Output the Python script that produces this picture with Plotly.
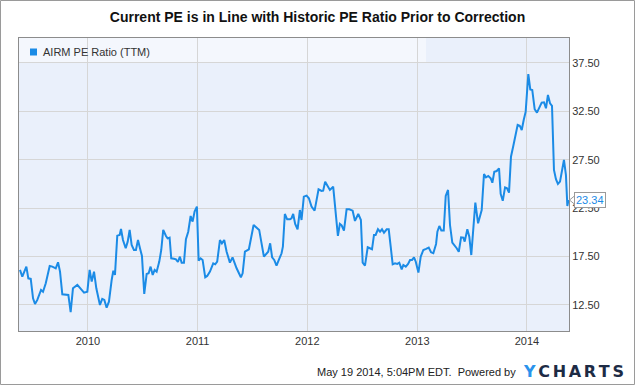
import plotly.graph_objects as go
from datetime import datetime, timedelta

years = [
    2009.380, 2009.401, 2009.438, 2009.456, 2009.478, 2009.499, 2009.517, 2009.538, 2009.572, 2009.590,
    2009.615, 2009.651, 2009.675, 2009.706, 2009.727, 2009.745, 2009.766, 2009.797, 2009.821, 2009.842,
    2009.863, 2009.903, 2009.933, 2009.964, 2009.994, 2010.015, 2010.034, 2010.055, 2010.076, 2010.109,
    2010.130, 2010.149, 2010.170, 2010.191, 2010.216, 2010.231, 2010.246, 2010.267, 2010.289, 2010.301,
    2010.319, 2010.344, 2010.362, 2010.380, 2010.398, 2010.419, 2010.437, 2010.456, 2010.474, 2010.492,
    2010.513, 2010.535, 2010.553, 2010.571, 2010.590, 2010.608, 2010.626, 2010.650, 2010.668, 2010.686,
    2010.711, 2010.726, 2010.744, 2010.759, 2010.784, 2010.802, 2010.820, 2010.838, 2010.854, 2010.875,
    2010.893, 2010.914, 2010.936, 2010.954, 2010.972, 2010.993, 2011.009, 2011.027, 2011.045, 2011.069,
    2011.087, 2011.112, 2011.142, 2011.160, 2011.178, 2011.203, 2011.221, 2011.242, 2011.264, 2011.294,
    2011.318, 2011.355, 2011.394, 2011.410, 2011.431, 2011.467, 2011.510, 2011.531, 2011.561, 2011.604,
    2011.628, 2011.643, 2011.661, 2011.679, 2011.698, 2011.719, 2011.740, 2011.765, 2011.777, 2011.795,
    2011.816, 2011.841, 2011.856, 2011.871, 2011.889, 2011.911, 2011.932, 2011.947, 2011.968, 2011.993,
    2012.014, 2012.038, 2012.066, 2012.102, 2012.129, 2012.144, 2012.162, 2012.187, 2012.205, 2012.235,
    2012.257, 2012.278, 2012.296, 2012.312, 2012.333, 2012.357, 2012.381, 2012.412, 2012.433, 2012.463,
    2012.487, 2012.503, 2012.524, 2012.549, 2012.569, 2012.588, 2012.606, 2012.621, 2012.642, 2012.661,
    2012.679, 2012.697, 2012.722, 2012.740, 2012.758, 2012.776, 2012.797, 2012.818, 2012.836, 2012.858,
    2012.873, 2012.895, 2012.916, 2012.934, 2012.952, 2012.970, 2012.986, 2013.010, 2013.031, 2013.055,
    2013.080, 2013.104, 2013.125, 2013.146, 2013.171, 2013.183, 2013.201, 2013.219, 2013.241, 2013.259,
    2013.280, 2013.298, 2013.319, 2013.344, 2013.359, 2013.378, 2013.399, 2013.420, 2013.432, 2013.456,
    2013.474, 2013.492, 2013.511, 2013.529, 2013.554, 2013.572, 2013.587, 2013.608, 2013.626, 2013.647,
    2013.669, 2013.684, 2013.702, 2013.724, 2013.745, 2013.760, 2013.779, 2013.800, 2013.818, 2013.836,
    2013.854, 2013.875, 2013.893, 2013.915, 2013.934, 2013.952, 2013.970, 2013.988, 2014.012, 2014.030,
    2014.048, 2014.070, 2014.091, 2014.112, 2014.134, 2014.155, 2014.173, 2014.191, 2014.210, 2014.228,
    2014.246, 2014.264, 2014.282, 2014.301, 2014.319, 2014.337, 2014.355, 2014.368, 2014.374, 2014.380,
]
pe_ratio = [
    16.12, 15.42, 16.46, 15.25, 15.19, 13.19, 12.60, 13.02, 14.05, 13.87,
    14.74, 16.53, 16.46, 16.29, 16.91, 15.94, 13.60, 13.53, 13.53, 11.75,
    14.22, 14.57, 14.12, 13.77, 13.87, 16.12, 14.91, 15.94, 14.22, 12.50,
    13.12, 13.02, 12.22, 12.84, 15.08, 16.04, 15.60, 19.66, 19.73, 20.35,
    19.21, 18.36, 19.04, 20.25, 18.70, 18.18, 18.18, 19.21, 18.36, 17.56,
    13.64, 15.70, 15.77, 16.46, 15.60, 16.12, 15.94, 16.98, 18.18, 20.25,
    19.63, 19.38, 19.45, 17.32, 17.28, 17.21, 16.94, 17.49, 16.87, 16.87,
    19.29, 20.07, 21.69, 21.11, 22.14, 22.66, 17.08, 17.32, 17.15, 15.36,
    15.50, 15.94, 16.80, 16.70, 16.97, 19.21, 18.87, 19.21, 18.00, 16.87,
    17.42, 16.29, 15.36, 15.77, 18.00, 18.25, 20.76, 20.52, 20.25, 17.49,
    17.84, 18.00, 18.87, 17.42, 17.15, 16.56, 17.15, 17.84, 18.52, 21.90,
    21.35, 21.35, 21.46, 21.90, 20.87, 20.32, 22.31, 21.28, 23.69, 23.79,
    23.52, 22.66, 22.24, 24.45, 24.28, 24.31, 25.24, 24.72, 24.38, 24.72,
    22.31, 19.63, 20.87, 20.73, 20.18, 22.38, 22.38, 22.24, 21.18, 21.90,
    21.28, 16.87, 16.56, 18.46, 18.36, 18.25, 19.73, 19.73, 20.32, 20.07,
    20.32, 19.97, 20.32, 20.32, 18.52, 16.70, 16.80, 16.74, 16.87, 16.18,
    16.63, 16.46, 16.74, 17.15, 17.15, 17.42, 16.97, 15.84, 17.49, 18.18,
    18.29, 18.42, 17.94, 17.84, 18.80, 20.07, 20.66, 20.18, 20.18, 23.76,
    24.38, 20.76, 18.94, 18.60, 18.36, 18.00, 19.49, 19.45, 19.04, 20.32,
    19.56, 17.66, 20.94, 23.07, 20.94, 21.62, 22.31, 26.03, 25.69, 25.83,
    25.59, 25.13, 26.27, 26.34, 26.62, 23.97, 23.27, 24.65, 24.55, 24.10,
    27.82, 28.93, 29.96, 31.10, 31.02, 30.58, 31.61, 32.47, 36.36, 34.77,
    34.71, 32.72, 32.37, 32.82, 33.40, 33.44, 32.82, 34.19, 33.33, 33.06,
    26.45, 25.49, 25.00, 25.24, 26.62, 27.48, 25.93, 22.73, 23.07, 23.34,
]
y_ticks = [12.5, 17.5, 22.5, 27.5, 32.5, 37.5]
x_tick_years = [2010, 2011, 2012, 2013, 2014]

title_text = "Current PE is in Line with Historic PE Ratio Prior to Correction"
series_name = "AIRM PE Ratio (TTM)"
footer_text = "May 19 2014, 5:04PM EDT.  Powered by"
last_label = "23.34"


def to_date(t):
    y = int(t)
    start = datetime(y, 1, 1)
    ndays = (datetime(y + 1, 1, 1) - start).days
    return start + timedelta(days=(t - y) * ndays)


dates = [to_date(t) for t in years]

BLUE = "#1b8be6"
FONT = "Liberation Sans, Arial, sans-serif"
W, H = 635, 385
L, R, T, B = 19, 66, 38, 54
PW, PH = W - L - R, H - T - B

fig = go.Figure()
fig.add_trace(go.Scatter(
    x=dates, y=pe_ratio, mode="lines", name=series_name,
    line=dict(color=BLUE, width=2), hoverinfo="skip", showlegend=False,
))

fig.update_layout(
    width=W, height=H,
    margin=dict(l=L, r=R, t=T, b=B, pad=0),
    paper_bgcolor="white",
    plot_bgcolor="#eaf0fb",
    font=dict(family=FONT, size=11, color="#333333"),
    title=dict(text="<b>" + title_text + "</b>", x=0.5, xanchor="center",
               y=1 - 17 / H, yanchor="middle",
               font=dict(family=FONT, size=14, color="#111111")),
    xaxis=dict(
        type="date",
        range=[to_date(2009.371), to_date(2014.383)],
        tickvals=[datetime(y, 1, 1) for y in x_tick_years],
        ticktext=[str(y) for y in x_tick_years],
        showgrid=True, gridcolor="#d6d6d6", gridwidth=1,
        showline=True, linecolor="#8c8c8c", linewidth=1, mirror=True,
        ticks="", zeroline=False,
        tickfont=dict(family=FONT, size=11, color="#333333"),
    ),
    yaxis=dict(
        side="right",
        range=[9.81, 40.08],
        tickvals=y_ticks,
        ticktext=["%.2f" % v for v in y_ticks],
        showgrid=True, gridcolor="#d6d6d6", gridwidth=1,
        showline=True, linecolor="#8c8c8c", linewidth=1, mirror=True,
        ticks="", zeroline=False,
        tickfont=dict(family=FONT, size=11, color="#333333"),
    ),
    hovermode=False,
)

shapes = []
# legend band (lighter)
shapes.append(dict(type="rect", xref="paper", yref="paper",
                   x0=0, x1=(426 - L) / PW, y0=1 - 25 / PH, y1=1,
                   fillcolor="#f4f7fd", line=dict(width=0), layer="below"))
# legend square
shapes.append(dict(type="rect", xref="paper", yref="paper",
                   x0=(30 - L) / PW, x1=(37 - L) / PW,
                   y0=1 - (55.5 - T) / PH, y1=1 - (48.5 - T) / PH,
                   fillcolor=BLUE, line=dict(width=0), layer="above"))
# outer border of the image
shapes.append(dict(type="rect", xref="paper", yref="paper",
                   x0=(-L + 0.5) / PW, x1=1 + (R - 0.5) / PW,
                   y0=(-B + 0.5) / PH, y1=1 + (T - 0.5) / PH,
                   line=dict(color="#9a9a9a", width=1), fillcolor="rgba(0,0,0,0)"))
# pointer of the last-value callout
last_v = pe_ratio[-1]
ppu = PH / (40.08 - 9.81)
shapes.append(dict(type="path", xref="paper", yref="y",
                   path="M %f %f L %f %f L %f %f Z" % (
                       1 + 0.5 / PW, last_v,
                       1 + 6 / PW, last_v + 4.5 / ppu,
                       1 + 6 / PW, last_v - 4.5 / ppu),
                   fillcolor="white", line=dict(color="#9a9a9a", width=1)))
fig.update_layout(shapes=shapes)

sp = "\u2006"
annotations = [
    dict(text=series_name, xref="paper", yref="paper",
         x=(41 - L) / PW, y=1 - (51.5 - T) / PH, xanchor="left", yanchor="middle",
         showarrow=False, font=dict(family=FONT, size=11, color="#333333")),
    dict(text=last_label, xref="paper", yref="y", x=1, y=last_v,
         xshift=5, xanchor="left", yanchor="middle", showarrow=False,
         bgcolor="white", bordercolor="#9a9a9a", borderwidth=1, borderpad=1,
         font=dict(family=FONT, size=11, color=BLUE)),
    dict(text=footer_text, xref="paper", yref="paper",
         x=(518 - L) / PW, y=-(372 - T - PH) / PH, xanchor="right", yanchor="middle",
         showarrow=False, font=dict(family=FONT, size=11, color="#222222")),
    dict(text="<b><span style='color:#2a93ec'>Y</span>" + sp + sp.join("CHARTS") + "</b>",
         xref="paper", yref="paper",
         x=(521 - L) / PW, y=-(371 - T - PH) / PH, xanchor="left", yanchor="middle",
         showarrow=False, font=dict(family="DejaVu Sans, sans-serif", size=16, color="#1d2b45")),
]
fig.update_layout(annotations=annotations)

fig.write_html("out.html", config={"displayModeBar": False},
               post_script="document.body.style.margin='0';document.body.style.padding='0';")
